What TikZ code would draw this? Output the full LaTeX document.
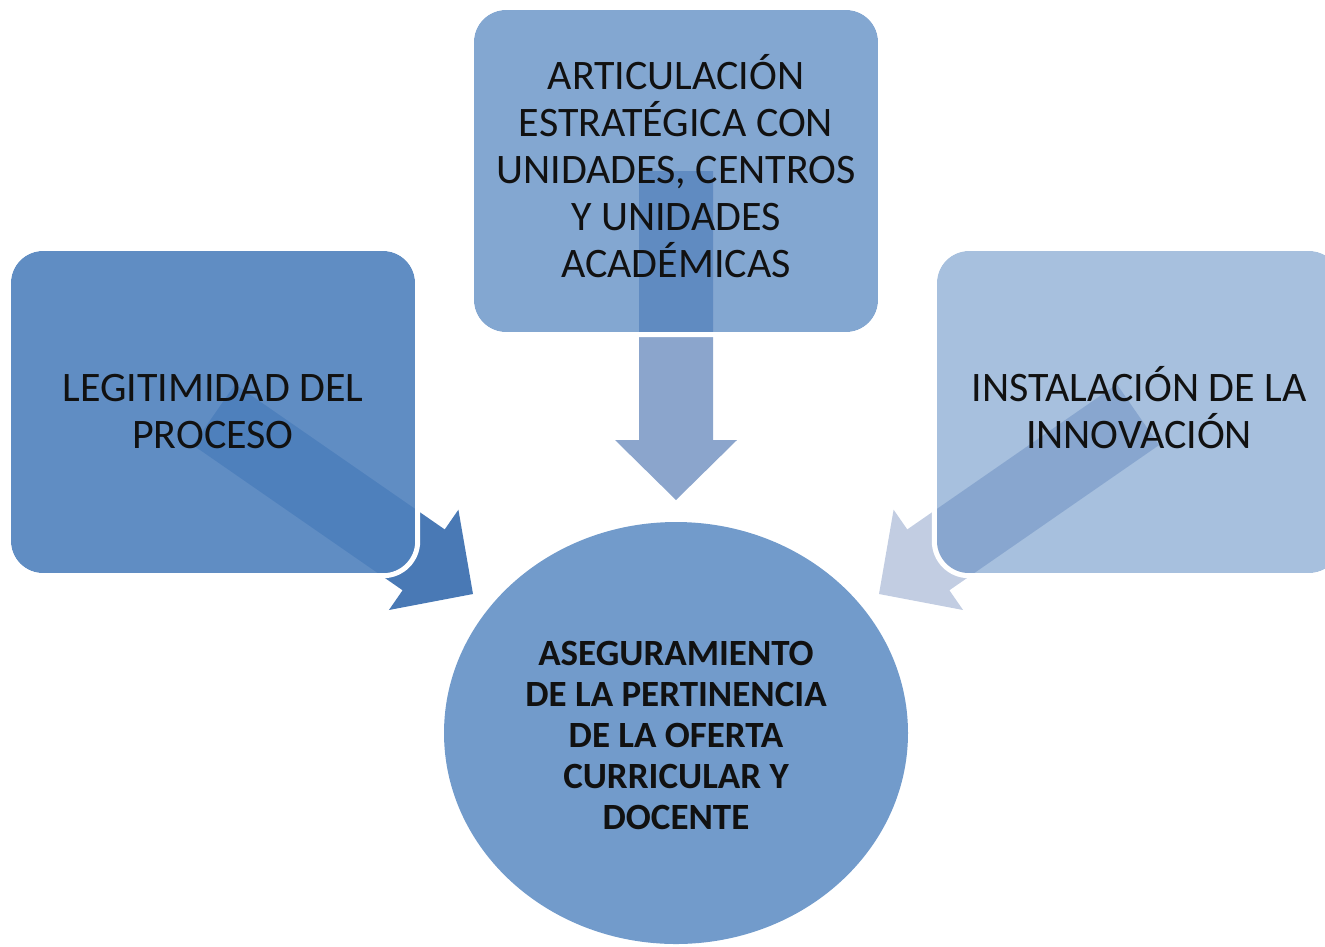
\documentclass[tikz,border=0pt]{standalone}
\usepackage{fontspec}
\setmainfont{Carlito}
\usetikzlibrary{shapes.geometric,calc}
\definecolor{acc}{HTML}{4F81BD}
\definecolor{arrL}{HTML}{4979B5}
\definecolor{arrT}{HTML}{8BA5CC}
\definecolor{arrR}{HTML}{C2CDE2}
\definecolor{circ}{HTML}{729BCB}
\definecolor{txt}{HTML}{111111}
\begin{document}
\begin{tikzpicture}[x=1pt,y=-1pt,
  boxshape/.style={rectangle, rounded corners=32pt, minimum width=404pt,
    minimum height=322pt, inner sep=0pt, fill=acc},
  boxtext/.style={inner sep=0pt, text=txt, align=center,
    font=\fontsize{42}{47}\selectfont},
  ringcut/.style={white, even odd rule},
  centre/.style={ellipse, fill=circ, minimum width=464pt, minimum height=422pt,
    inner sep=0pt},
  centretext/.style={inner sep=0pt, align=center, text=txt,
    font=\bfseries\fontsize{37}{41}\selectfont}]
\useasboundingbox (0,0) rectangle (1325,946);
\clip (0,0) rectangle (1325,946);

% arrow tips
\coordinate (tipL) at (473,594);
\coordinate (tipT) at (676,500);
\coordinate (tipR) at (879,594);

% converging arrows (drawn behind the boxes)
\begin{scope}[shift={(tipT)}, rotate=-90]
  \fill[arrT] (0,0) -- (-60,61) -- (-60,37) -- (-329,37) -- (-329,-37) -- (-60,-37) -- (-60,-61) -- cycle;
\end{scope}
\begin{scope}[shift={(tipL)}, rotate=-34.7]
  \fill[arrL] (0,0) -- (-60,61) -- (-60,37) -- (-315,37) -- (-315,-37) -- (-60,-37) -- (-60,-61) -- cycle;
\end{scope}
\begin{scope}[shift={(tipR)}, rotate=-145.3]
  \fill[arrR] (0,0) -- (-60,61) -- (-60,37) -- (-315,37) -- (-315,-37) -- (-60,-37) -- (-60,-61) -- cycle;
\end{scope}

% boxes
\node[boxshape, fill opacity=0.9] (L) at (213,412) {};
\node[boxshape, fill opacity=0.7] (T) at (676,171) {};
\node[boxshape, fill opacity=0.5] (R) at (1139,412) {};

% white rims around the boxes
\foreach \b in {L,T,R}{
  \fill[ringcut] [rounded corners=37pt] ($(\b.north west)+(-5,-5)$) rectangle ($(\b.south east)+(5,5)$)
    [rounded corners=32pt] (\b.north west) rectangle (\b.south east);
}

% box texts
\node[boxtext] (Ltext) at ($(L.center)+(0,0)$) {LEGITIMIDAD DEL\\PROCESO};
\node[boxtext] (Ttext) at ($(T.center)+(0,-5)$) {ARTICULACIÓN\\ESTRATÉGICA CON\\UNIDADES, CENTROS\\Y UNIDADES\\ACADÉMICAS};
\node[boxtext] (Rtext) at ($(R.center)+(0,-4)$) {INSTALACIÓN DE LA\\INNOVACIÓN};

% centre
\node[centre] (C) at (676,733) {};
\node[centretext] (Ctext) at ($(C.center)+(0,2)$) {ASEGURAMIENTO\\DE LA PERTINENCIA\\DE LA OFERTA\\CURRICULAR Y\\DOCENTE};
\end{tikzpicture}
\end{document}
